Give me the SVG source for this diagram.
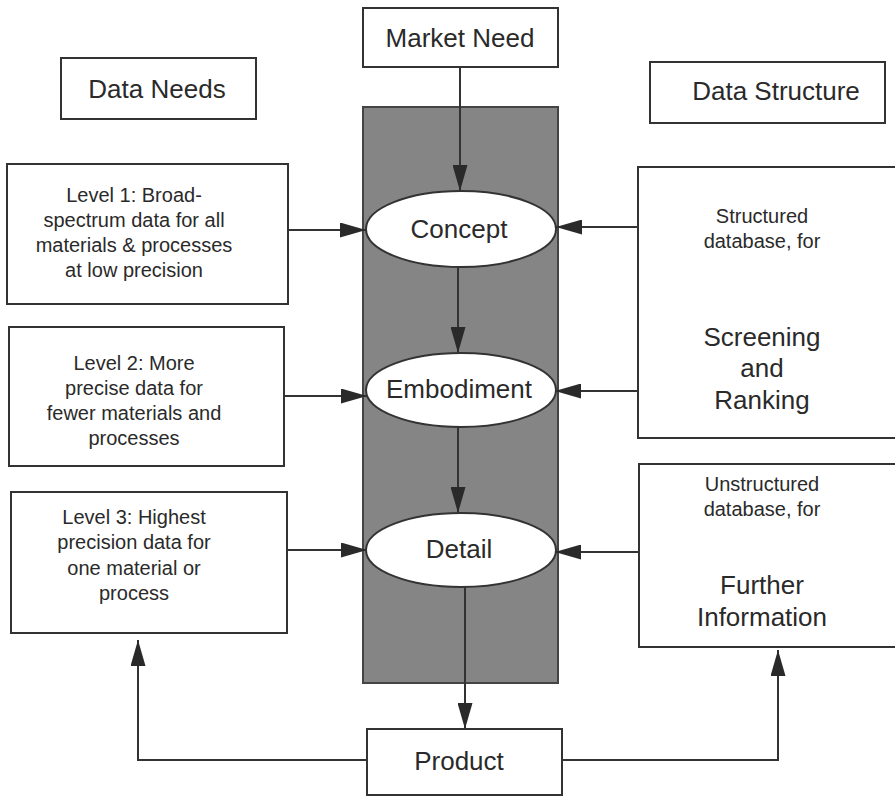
<svg xmlns="http://www.w3.org/2000/svg" width="895" height="796" viewBox="0 0 895 796">
<style>
.box{fill:#fff;stroke:#333;stroke-width:2}
.ell{fill:#fff;stroke:#333;stroke-width:2}
.t{font-family:"Liberation Sans",Arial,sans-serif;fill:#2a2a2a;text-anchor:middle}
.big{font-size:26px}
.sm{font-size:20px}
.c{fill:none;stroke:#333;stroke-width:2}
</style>
<defs>
<marker id="ah" viewBox="0 0 26 15" refX="26" refY="7.5" markerWidth="26" markerHeight="15" markerUnits="userSpaceOnUse" orient="auto">
<path d="M0,0 L26,7.5 L0,15 Z" fill="#2a2a2a"/>
</marker>
</defs>
<rect width="895" height="796" fill="#fff"/>
<g id="process">
<rect x="363" y="107" width="195" height="576" fill="#858585" stroke="#444" stroke-width="2"/>
</g>
<g id="connectors">
<line class="c" x1="460" y1="67" x2="460" y2="191" marker-end="url(#ah)"/>
<line class="c" x1="458" y1="267" x2="458" y2="353" marker-end="url(#ah)"/>
<line class="c" x1="458" y1="427" x2="458" y2="513" marker-end="url(#ah)"/>
<line class="c" x1="465" y1="587" x2="465" y2="729" marker-end="url(#ah)"/>
<line class="c" x1="288" y1="230" x2="366" y2="230" marker-end="url(#ah)"/>
<line class="c" x1="284" y1="396" x2="367" y2="396" marker-end="url(#ah)"/>
<line class="c" x1="287" y1="550" x2="367" y2="550" marker-end="url(#ah)"/>
<line class="c" x1="638" y1="227" x2="556" y2="227" marker-end="url(#ah)"/>
<line class="c" x1="638" y1="391" x2="555" y2="391" marker-end="url(#ah)"/>
<line class="c" x1="639" y1="552" x2="555" y2="552" marker-end="url(#ah)"/>
<polyline class="c" points="367,760 138,760 138,640" marker-end="url(#ah)"/>
<polyline class="c" points="562,760 778,760 778,650" marker-end="url(#ah)"/>
</g>
<g id="market-need">
<rect class="box" x="363" y="8" width="195" height="59"/>
<text class="t big" x="460" y="47">Market Need</text>
</g>
<g id="data-needs">
<rect class="box" x="61" y="58" width="195" height="61"/>
<text class="t big" x="157" y="98">Data Needs</text>
</g>
<g id="data-structure">
<rect class="box" x="650" y="62" width="235" height="61"/>
<text class="t big" x="776" y="100">Data Structure</text>
</g>
<g id="level1">
<rect class="box" x="7" y="164" width="281" height="140"/>
<text class="t sm" x="134" y="202">Level 1: Broad-</text>
<text class="t sm" x="134" y="227">spectrum data for all</text>
<text class="t sm" x="134" y="252">materials &amp; processes</text>
<text class="t sm" x="134" y="277">at low precision</text>
</g>
<g id="level2">
<rect class="box" x="9" y="327" width="275" height="139"/>
<text class="t sm" x="134" y="370">Level 2: More</text>
<text class="t sm" x="134" y="395">precise data for</text>
<text class="t sm" x="134" y="420">fewer materials and</text>
<text class="t sm" x="134" y="445">processes</text>
</g>
<g id="level3">
<rect class="box" x="11" y="492" width="276" height="141"/>
<text class="t sm" x="134" y="524">Level 3: Highest</text>
<text class="t sm" x="134" y="549">precision data for</text>
<text class="t sm" x="134" y="575">one material or</text>
<text class="t sm" x="134" y="600">process</text>
</g>
<g id="concept">
<ellipse class="ell" cx="461" cy="229" rx="95" ry="38"/>
<text class="t big" x="459" y="238">Concept</text>
</g>
<g id="embodiment">
<ellipse class="ell" cx="461" cy="390" rx="95" ry="37"/>
<text class="t big" x="459" y="398">Embodiment</text>
</g>
<g id="detail">
<ellipse class="ell" cx="461" cy="550" rx="95" ry="37"/>
<text class="t big" x="459" y="558">Detail</text>
</g>
<g id="structured">
<rect class="box" x="638" y="167" width="270" height="271"/>
<text class="t sm" x="762" y="223">Structured</text>
<text class="t sm" x="762" y="248">database, for</text>
<text class="t big" x="762" y="346">Screening</text>
<text class="t big" x="762" y="377">and</text>
<text class="t big" x="762" y="409">Ranking</text>
</g>
<g id="unstructured">
<rect class="box" x="639" y="464" width="270" height="183"/>
<text class="t sm" x="762" y="491">Unstructured</text>
<text class="t sm" x="762" y="516">database, for</text>
<text class="t big" x="762" y="594">Further</text>
<text class="t big" x="762" y="626">Information</text>
</g>
<g id="product">
<rect class="box" x="367" y="729" width="195" height="66"/>
<text class="t big" x="459" y="770">Product</text>
</g>
</svg>
